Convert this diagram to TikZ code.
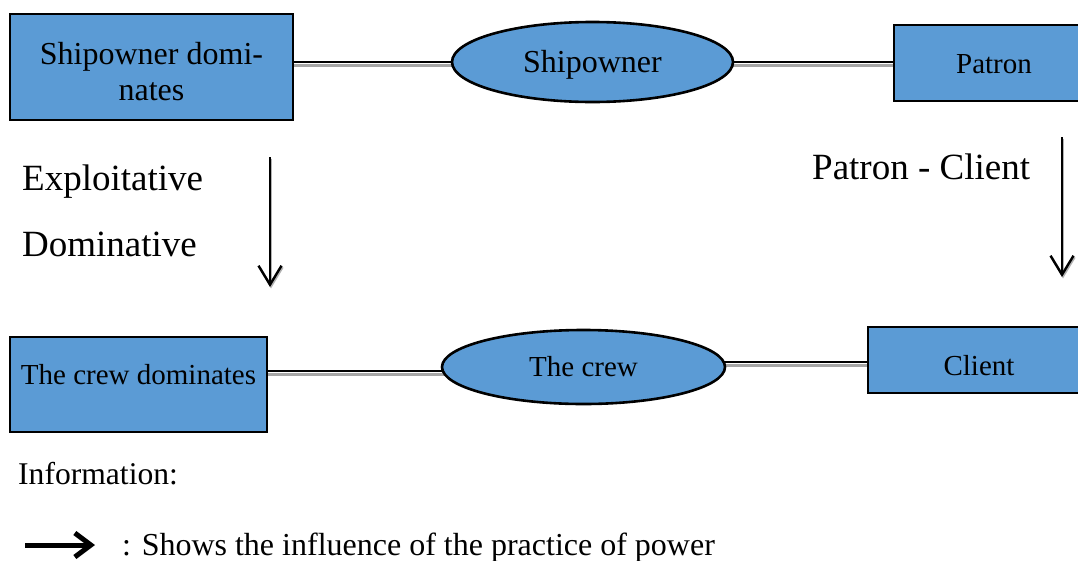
\documentclass[tikz,border=0pt]{standalone}
\usepackage{fontspec}
\setmainfont{Liberation Serif}
\usetikzlibrary{arrows.meta,shapes.geometric,positioning,backgrounds}
\definecolor{boxblue}{HTML}{5B9BD5}
\tikzset{
  rolebox/.style={draw=black,line width=2.8pt,fill=boxblue,inner sep=0pt,align=center,font=\fontsize{29}{33}\selectfont},
  roleoval/.style={ellipse,draw=black,line width=2.6pt,fill=boxblue,inner sep=0pt,font=\fontsize{29}{33}\selectfont},
  tie/.style={line width=2.6pt,black},
  tieshadow/.style={line width=2.6pt,black!35},
  influence/.style={line width=2.4pt,-{Straight Barb[length=19pt,width=23pt,line width=2.4pt]}},
  sidetext/.style={inner sep=0pt,anchor=base west,font=\fontsize{37}{40}\selectfont},
  notetext/.style={inner sep=0pt,anchor=base west,font=\fontsize{31.6}{34}\selectfont},
}
\begin{document}
\begin{tikzpicture}[x=1pt,y=-1pt]
\useasboundingbox (0,0) rectangle (1078,560);
% top row
\node (SD) [rolebox,minimum width=283,minimum height=106,text height=73pt,text depth=7pt,
  font=\fontsize{32}{36}\selectfont] at (151.5,67) {Shipowner domi-\\nates};
\node (S) [roleoval,minimum width=281,minimum height=80,text height=28pt,font=\fontsize{32}{35}\selectfont] at (592.5,62) {Shipowner};
\node (P) [rolebox,minimum width=200,minimum height=76,text height=22pt] at (994,63) {Patron};
% bottom row
\node (CD) [rolebox,minimum width=257,minimum height=95,text depth=21pt] at (138.5,384.5) {The crew dominates};
\node (C) [roleoval,minimum width=283,minimum height=74] at (583.5,367) {The crew};
\node (K) [rolebox,minimum width=222,minimum height=66,text height=32pt] at (979,360) {Client};
% ties
\begin{scope}[on background layer]
\draw[tieshadow] ([yshift=-3.5pt]S.center) -- ([yshift=-3.5pt]S.center -| SD.east);
\draw[tie] (S.center) -- (S.center -| SD.east);
\draw[tieshadow] ([yshift=-3.5pt]S.center) -- ([yshift=-3.5pt]S.center -| P.west);
\draw[tie] (S.center) -- (S.center -| P.west);
\draw[tieshadow] ([yshift=-7.5pt]C.center) -- ([yshift=-7.5pt]C.center -| CD.east);
\draw[tie] ([yshift=-4pt]C.center) -- ([yshift=-4pt]C.center -| CD.east);
\draw[tieshadow] ([yshift=1.5pt]C.center) -- ([yshift=1.5pt]C.center -| K.west);
\draw[tie] ([yshift=5pt]C.center) -- ([yshift=5pt]C.center -| K.west);
\end{scope}
% influence arrows
\coordinate (exTop) at (270,157);
\coordinate (exEnd) at (270,287);
\coordinate (pcTop) at (1062,137);
\coordinate (pcEnd) at (1062,277);
\draw[influence,black!30,transform canvas={shift={(1pt,-1.5pt)}}] (exTop) -- (exEnd);
\draw[influence] (exTop) -- (exEnd);
\draw[influence,black!30,transform canvas={shift={(1pt,-1.5pt)}}] (pcTop) -- (pcEnd);
\draw[influence] (pcTop) -- (pcEnd);
% labels
\node (ex) [sidetext] at (22,190) {Exploitative};
\node (dom) [sidetext] at (22,256) {Dominative};
\node (pc) [sidetext] at (812,179) {Patron - Client};
% legend
\node (info) [notetext] at (18,484) {Information:};
\coordinate (lgA) at (25,545);
\coordinate (lgB) at (95,545);
\draw[line width=5pt,-{Straight Barb[length=16pt,width=24pt,line width=5pt]}] (lgA) -- (lgB);
\node (lg) [notetext,font=\fontsize{32}{34}\selectfont] at (122,555) {: Shows the influence of the practice of power};
\end{tikzpicture}
\end{document}
